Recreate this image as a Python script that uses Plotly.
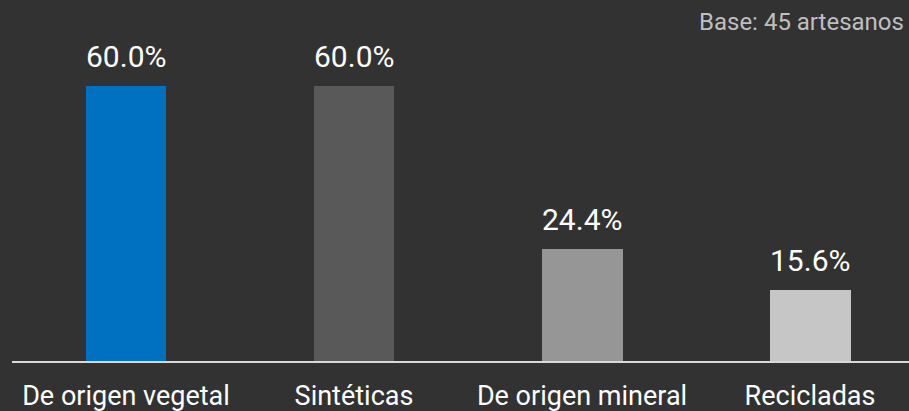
import plotly.graph_objects as go

# datos
categorias = ['De origen vegetal', 'Sintéticas', 'De origen mineral', 'Recicladas']
porcentajes = [60.0, 60.0, 24.4, 15.6]
colores = ['#0070C0', '#595959', '#969696', '#C6C6C6']
nota = 'Base: 45 artesanos'

fig = go.Figure()

fig.add_trace(go.Bar(
    x=categorias,
    y=porcentajes,
    width=0.355,
    marker=dict(color=colores, line=dict(width=0)),
    hoverinfo='skip'
))

# etiquetas de valor sobre cada barra
for cat, val in zip(categorias, porcentajes):
    fig.add_annotation(
        x=cat, y=val, text=f'{val:.1f}%',
        xanchor='center', yanchor='bottom', yshift=10,
        showarrow=False,
        font=dict(family='Roboto', size=30, color='#FFFFFF')
    )

fig.add_annotation(
    text=nota, xref='paper', yref='paper', x=1, y=1,
    xanchor='right', yanchor='top', xshift=-3, yshift=-6,
    showarrow=False,
    font=dict(family='Roboto', size=24, color='#BFBFBF')
)

fig.update_layout(
    width=909, height=411,
    paper_bgcolor='#323232',
    plot_bgcolor='#323232',
    margin=dict(l=12, r=0, t=0, b=50),
    showlegend=False,
    bargap=0,
    font=dict(family='Roboto', color='#FFFFFF')
)

fig.update_xaxes(
    range=[-0.5, 3.434],
    showgrid=False,
    showline=True, linecolor='#D9D9D9', linewidth=2,
    ticks='',
    ticklabelstandoff=10,
    automargin=False,
    tickfont=dict(family='Roboto', size=27, color='#FFFFFF'),
    fixedrange=True
)
fig.update_yaxes(
    range=[0, 78.77],
    showgrid=False, zeroline=False, showticklabels=False,
    automargin=False,
    fixedrange=True
)

fig.write_html('out.html', config={'displayModeBar': False},
               post_script="document.body.style.margin='0px';")
